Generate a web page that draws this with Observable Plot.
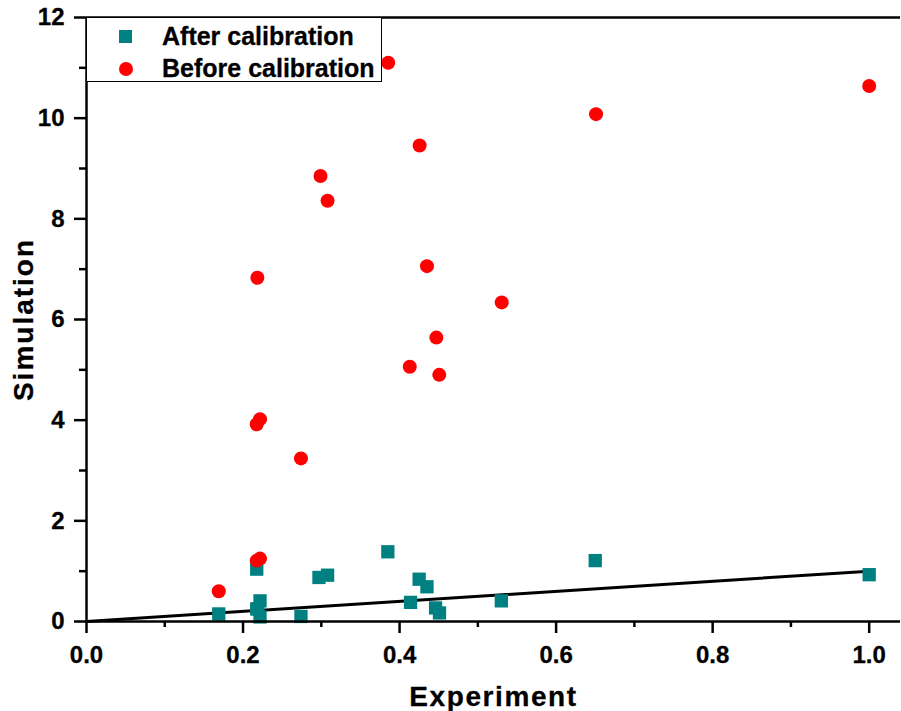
<!DOCTYPE html>
<html>
<head>
<meta charset="utf-8">
<script src="https://cdn.jsdelivr.net/npm/d3@7"></script>
<script src="https://cdn.jsdelivr.net/npm/@observablehq/plot@0.6"></script>
<style>
  body { margin: 0; background: #fff; }
  #wrap { position: relative; width: 901px; height: 711px; }
  #wrap svg.chart { position: absolute; left: 0; top: 0; }
  svg.chart g[aria-label="x-axis tick label"] text,
  svg.chart g[aria-label="y-axis tick label"] text { font-size: 24px; font-weight: bold; stroke: #000; stroke-width: 0.3px; }
  g[aria-label="x-axis label"] text { font-size: 28px; letter-spacing: 1.6px; stroke: #000; stroke-width: 0.3px; }
  g[aria-label="y-axis label"] text { font-size: 28px; letter-spacing: 2px; stroke: #000; stroke-width: 0.3px; }
  #legend { position: absolute; left: 86px; top: 17px; width: 296px; height: 65px;
            border: 1px solid #000; background: #fff; box-sizing: border-box; }
  #legend svg { position: absolute; left: -1px; top: -1px; }
  #legend text { font: bold 25px "Liberation Sans", Arial, sans-serif; fill: #000; stroke: #000; stroke-width: 0.3px; }
</style>
</head>
<body>
<div id="wrap"></div>
<script>
// Experiment / Simulation values
const afterX  = [0.219, 0.169, 0.2175, 0.2217, 0.2175, 0.2217, 0.274, 0.297, 0.308, 0.385, 0.414, 0.425, 0.435, 0.446, 0.451, 0.530, 0.650, 1.0];
const afterY  = [0.25, 0.15, 1.04, 0.41, 0.25, 0.09, 0.10, 0.875, 0.92, 1.385, 0.38, 0.84, 0.69, 0.27, 0.17, 0.41, 1.21, 0.93];
const beforeX = [0.3855, 1.0, 0.651, 0.4256, 0.299, 0.308, 0.2183, 0.435, 0.5305, 0.447, 0.413, 0.4507, 0.2217, 0.2175, 0.274, 0.2175, 0.2217, 0.169];
const beforeY = [11.10, 10.64, 10.08, 9.457, 8.85, 8.36, 6.83, 7.06, 6.34, 5.64, 5.06, 4.90, 4.02, 3.92, 3.24, 1.21, 1.25, 0.60];
const refX = [0, 1];
const refY = [0, 1];
const xTicks = [0, 0.2, 0.4, 0.6, 0.8, 1.0];
const xMinor = [0.1, 0.3, 0.5, 0.7, 0.9];
const yTicks = [0, 2, 4, 6, 8, 10, 12];
const yMinor = [1, 3, 5, 7, 9, 11];
const seriesNames = ["After calibration", "Before calibration"];
const seriesColors = ["#008080", "#ff0000"];

const after = afterX.map((x, i) => ({x, y: afterY[i]}));
const before = beforeX.map((x, i) => ({x, y: beforeY[i]}));
const ref = refX.map((x, i) => ({x, y: refY[i]}));

const chart = Plot.plot({
  width: 901,
  height: 711,
  marginLeft: 86,
  marginRight: 1,
  marginTop: 17,
  marginBottom: 90,
  x: {domain: [0, 1.04]},
  y: {domain: [0, 12]},
  style: {fontFamily: '"Liberation Sans", Arial, sans-serif', fontSize: "24px", fontWeight: "bold", color: "#000", background: "#fff", overflow: "visible"},
  marks: [
    Plot.ruleY([12], {stroke: "#000", strokeWidth: 2.5}),
    Plot.line(ref, {x: "x", y: "y", stroke: "#000", strokeWidth: 3}),
    Plot.dot(after, {x: "x", y: "y", symbol: "square", r: 7.5, fill: seriesColors[0]}),
    Plot.dot(before, {x: "x", y: "y", r: 7, fill: seriesColors[1]}),
    Plot.axisX(xMinor, {tickSize: 6, tickFormat: () => "", strokeWidth: 2.5, label: null}),
    Plot.axisX(xTicks, {tickSize: 12, tickPadding: 12, fontSize: 24, tickFormat: d3.format(".1f"), strokeWidth: 2.5,
      label: "Experiment", labelAnchor: "center", labelOffset: 84, labelArrow: false}),
    Plot.axisY(yMinor, {tickSize: 7, tickFormat: () => "", strokeWidth: 2.5, label: null}),
    Plot.axisY(yTicks, {tickSize: 12, tickPadding: 10, fontSize: 24, tickFormat: d3.format("d"), strokeWidth: 2.5,
      label: "Simulation", labelAnchor: "center", labelOffset: 73, labelArrow: false}),
    Plot.ruleY([0], {stroke: "#000", strokeWidth: 2.5}),
    Plot.ruleX([0], {stroke: "#000", strokeWidth: 2.5})
  ]
});
chart.classList.add("chart");
document.getElementById("wrap").appendChild(chart);

// Legend (drawn above the plot area, top-left)
const legend = document.createElement("div");
legend.id = "legend";
legend.innerHTML = `<svg width="300" height="70">
  <rect x="33" y="13" width="13" height="13" fill="${seriesColors[0]}"></rect>
  <text x="76" y="28">${seriesNames[0]}</text>
  <circle cx="40" cy="52" r="7" fill="${seriesColors[1]}"></circle>
  <text x="76" y="60">${seriesNames[1]}</text>
</svg>`;
document.getElementById("wrap").appendChild(legend);
</script>
</body>
</html>
